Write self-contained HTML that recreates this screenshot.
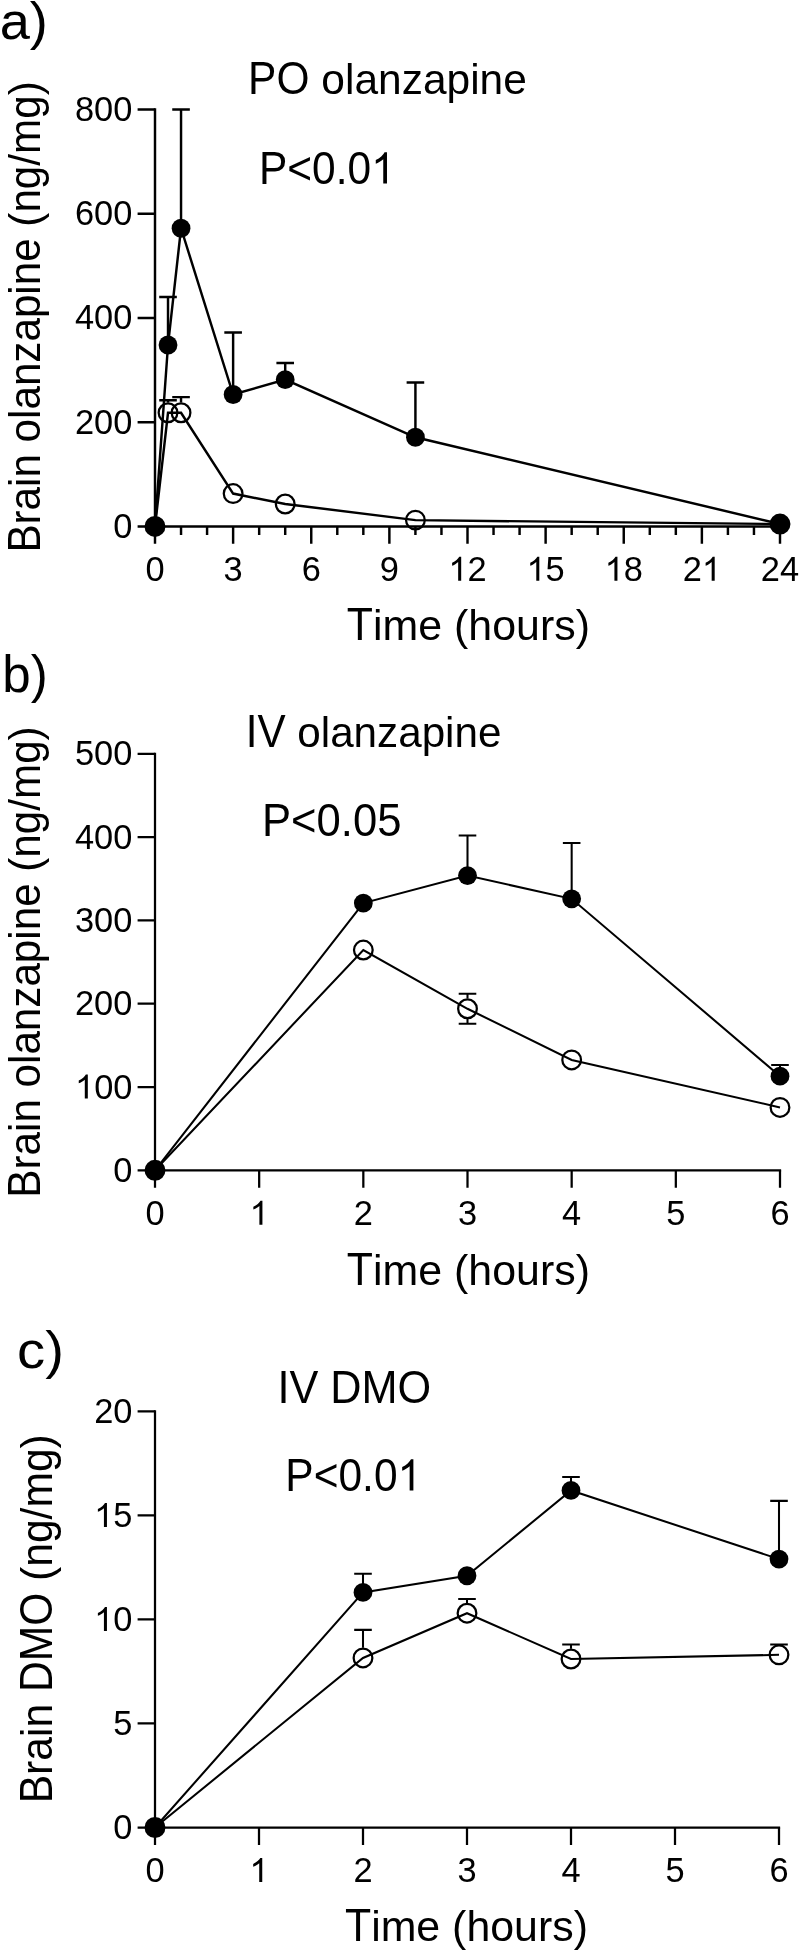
<!DOCTYPE html>
<html><head><meta charset="utf-8"><title>Brain olanzapine and DMO concentration-time profiles</title>
<style>html,body{margin:0;padding:0;background:#fff}body{width:800px;height:1953px;overflow:hidden}svg{display:block;will-change:transform}text{font-family:"Liberation Sans",sans-serif;fill:#000;font-kerning:none}</style>
</head><body>
<svg width="800" height="1953" viewBox="0 0 800 1953">
<g stroke="#000" stroke-width="2.45" fill="none">
<path d="M155 527.62 V108.18"/>
<path d="M153.78 526.4 H781.23"/>
<path d="M155 526.4 H137.6M155 422.15 H137.6M155 317.9 H137.6M155 213.65 H137.6M155 109.4 H137.6M155 526.4 V543.8M233.12 526.4 V543.8M311.25 526.4 V543.8M389.38 526.4 V543.8M467.5 526.4 V543.8M545.62 526.4 V543.8M623.75 526.4 V543.8M701.88 526.4 V543.8M780 526.4 V543.8M181.04 526.4 V535M207.08 526.4 V535M259.17 526.4 V535M285.21 526.4 V535M337.29 526.4 V535M363.33 526.4 V535M415.42 526.4 V535M441.46 526.4 V535M493.54 526.4 V535M519.58 526.4 V535M571.67 526.4 V535M597.71 526.4 V535M649.79 526.4 V535M675.83 526.4 V535M727.92 526.4 V535M753.96 526.4 V535"/>
</g>
<g transform="translate(113.27 537.9)" font-size="33.4">
<text transform="translate(0 0) scale(1.0300 1.0400)">0</text>
</g>
<g transform="translate(75 433.65)" font-size="33.4">
<text transform="translate(0 0) scale(1.0300 1.0400)">200</text>
</g>
<g transform="translate(75 329.4)" font-size="33.4">
<text transform="translate(0 0) scale(1.0300 1.0400)">400</text>
</g>
<g transform="translate(75 225.15)" font-size="33.4">
<text transform="translate(0 0) scale(1.0300 1.0400)">600</text>
</g>
<g transform="translate(75 120.9)" font-size="33.4">
<text transform="translate(0 0) scale(1.0300 1.0400)">800</text>
</g>
<g transform="translate(145.43 580.8)" font-size="33.4">
<text transform="translate(0 0) scale(1.0300 1.0400)">0</text>
</g>
<g transform="translate(223.56 580.8)" font-size="33.4">
<text transform="translate(0 0) scale(1.0300 1.0400)">3</text>
</g>
<g transform="translate(301.68 580.8)" font-size="33.4">
<text transform="translate(0 0) scale(1.0300 1.0400)">6</text>
</g>
<g transform="translate(379.81 580.8)" font-size="33.4">
<text transform="translate(0 0) scale(1.0300 1.0400)">9</text>
</g>
<g transform="translate(448.37 580.8)" font-size="33.4">
<path transform="translate(0 0) scale(0.01680 -0.01630)" d="M763 0H583V1147Q518 1085 412.5 1023T223 930V1104Q374 1175 487 1276T647 1472H763Z"/>
<text transform="translate(19.13 0) scale(1.0300 1.0400)">2</text>
</g>
<g transform="translate(526.49 580.8)" font-size="33.4">
<path transform="translate(0 0) scale(0.01680 -0.01630)" d="M763 0H583V1147Q518 1085 412.5 1023T223 930V1104Q374 1175 487 1276T647 1472H763Z"/>
<text transform="translate(19.13 0) scale(1.0300 1.0400)">5</text>
</g>
<g transform="translate(604.62 580.8)" font-size="33.4">
<path transform="translate(0 0) scale(0.01680 -0.01630)" d="M763 0H583V1147Q518 1085 412.5 1023T223 930V1104Q374 1175 487 1276T647 1472H763Z"/>
<text transform="translate(19.13 0) scale(1.0300 1.0400)">8</text>
</g>
<g transform="translate(682.74 580.8)" font-size="33.4">
<text transform="translate(0 0) scale(1.0300 1.0400)">2</text>
<path transform="translate(19.13 0) scale(0.01680 -0.01630)" d="M763 0H583V1147Q518 1085 412.5 1023T223 930V1104Q374 1175 487 1276T647 1472H763Z"/>
</g>
<g transform="translate(760.87 580.8)" font-size="33.4">
<text transform="translate(0 0) scale(1.0300 1.0400)">24</text>
</g>
<path d="M168.02 402.59 V400.26M159.22 400.26 H176.82M181.04 402.59 V397.13M172.24 397.13 H189.84" stroke="#000" stroke-width="2.45" fill="none"/>
<path d="M168.02 336.61 V297.05M159.22 297.05 H176.82M181.04 219.84 V109.4M172.24 109.4 H189.84M233.12 386.12 V332.5M224.32 332.5 H241.93M285.21 371.27 V362.99M276.41 362.99 H294.01M415.42 428.87 V382.53M406.62 382.53 H424.22" stroke="#000" stroke-width="2.45" fill="none"/>
<circle cx="155" cy="526.4" r="9.35" fill="none" stroke="#000" stroke-width="2.25"/>
<circle cx="168.02" cy="412.77" r="9.35" fill="none" stroke="#000" stroke-width="2.25"/>
<circle cx="181.04" cy="412.77" r="9.35" fill="none" stroke="#000" stroke-width="2.25"/>
<circle cx="233.12" cy="493.56" r="9.35" fill="none" stroke="#000" stroke-width="2.25"/>
<circle cx="285.21" cy="503.99" r="9.35" fill="none" stroke="#000" stroke-width="2.25"/>
<circle cx="415.42" cy="520.14" r="9.35" fill="none" stroke="#000" stroke-width="2.25"/>
<circle cx="780" cy="524.05" r="9.35" fill="none" stroke="#000" stroke-width="2.25"/>
<polyline points="155,526.4 168.02,412.77 181.04,412.77 233.12,493.56 285.21,503.99 415.42,520.14 780,524.05" stroke="#000" stroke-width="2.45" fill="none"/>
<circle cx="155" cy="526.4" r="9.4" fill="#000"/>
<circle cx="168.02" cy="345" r="9.4" fill="#000"/>
<circle cx="181.04" cy="228.25" r="9.4" fill="#000"/>
<circle cx="233.12" cy="394.52" r="9.4" fill="#000"/>
<circle cx="285.21" cy="379.67" r="9.4" fill="#000"/>
<circle cx="415.42" cy="437.27" r="9.4" fill="#000"/>
<circle cx="780" cy="524" r="9.4" fill="#000"/>
<polyline points="155,526.4 168.02,345 181.04,228.25 233.12,394.52 285.21,379.67 415.42,437.27 780,524" stroke="#000" stroke-width="2.45" fill="none"/>
<g transform="translate(-0.3 38.7)" font-size="51.9">
<text transform="translate(0 0) scale(1.0436 1.0000)">a)</text>
</g>
<g transform="translate(248.11 93.6)" font-size="42.2">
<text transform="translate(0 0) scale(1.0070 1.0761)">PO</text>
<text transform="translate(73.21 0) scale(1.0070 1.0200)">olanzapine</text>
</g>
<g transform="translate(258.91 183.6)" font-size="42.2">
<text transform="translate(0 0) scale(1.0070 1.0761)">P&lt;0.0</text>
<path transform="translate(112.24 0) scale(0.02075 -0.02131)" d="M763 0H583V1147Q518 1085 412.5 1023T223 930V1104Q374 1175 487 1276T647 1472H763Z"/>
</g>
<g transform="translate(346.84 640)" font-size="42.2">
<text transform="translate(0 0) scale(1.0165 1.0761)">T</text>
<text transform="translate(26.2 0) scale(1.0165 1.0200)">ime (hours)</text>
</g>
<g transform="translate(39.8 552.6) rotate(-90)" font-size="42.2">
<text transform="translate(0 0) scale(1.0000 1.1116)">B</text>
<text transform="translate(28.15 0) scale(1.0000 1.0537)">rain olanzapine (ng/mg)</text>
</g>
<g stroke="#000" stroke-width="2.25" fill="none">
<path d="M155 1171.42 V752.67"/>
<path d="M153.88 1170.3 H781.12"/>
<path d="M155 1170.3 H137.6M155 1087 H137.6M155 1003.7 H137.6M155 920.4 H137.6M155 837.1 H137.6M155 753.8 H137.6M155 1170.3 V1187.7M259.17 1170.3 V1187.7M363.33 1170.3 V1187.7M467.5 1170.3 V1187.7M571.67 1170.3 V1187.7M675.83 1170.3 V1187.7M780 1170.3 V1187.7"/>
</g>
<g transform="translate(113.27 1181.8)" font-size="33.4">
<text transform="translate(0 0) scale(1.0300 1.0400)">0</text>
</g>
<g transform="translate(75 1098.5)" font-size="33.4">
<path transform="translate(0 0) scale(0.01680 -0.01630)" d="M763 0H583V1147Q518 1085 412.5 1023T223 930V1104Q374 1175 487 1276T647 1472H763Z"/>
<text transform="translate(19.13 0) scale(1.0300 1.0400)">00</text>
</g>
<g transform="translate(75 1015.2)" font-size="33.4">
<text transform="translate(0 0) scale(1.0300 1.0400)">200</text>
</g>
<g transform="translate(75 931.9)" font-size="33.4">
<text transform="translate(0 0) scale(1.0300 1.0400)">300</text>
</g>
<g transform="translate(75 848.6)" font-size="33.4">
<text transform="translate(0 0) scale(1.0300 1.0400)">400</text>
</g>
<g transform="translate(75 765.3)" font-size="33.4">
<text transform="translate(0 0) scale(1.0300 1.0400)">500</text>
</g>
<g transform="translate(145.43 1224.7)" font-size="33.4">
<text transform="translate(0 0) scale(1.0300 1.0400)">0</text>
</g>
<g transform="translate(249.6 1224.7)" font-size="33.4">
<path transform="translate(0 0) scale(0.01680 -0.01630)" d="M763 0H583V1147Q518 1085 412.5 1023T223 930V1104Q374 1175 487 1276T647 1472H763Z"/>
</g>
<g transform="translate(353.77 1224.7)" font-size="33.4">
<text transform="translate(0 0) scale(1.0300 1.0400)">2</text>
</g>
<g transform="translate(457.93 1224.7)" font-size="33.4">
<text transform="translate(0 0) scale(1.0300 1.0400)">3</text>
</g>
<g transform="translate(562.1 1224.7)" font-size="33.4">
<text transform="translate(0 0) scale(1.0300 1.0400)">4</text>
</g>
<g transform="translate(666.27 1224.7)" font-size="33.4">
<text transform="translate(0 0) scale(1.0300 1.0400)">5</text>
</g>
<g transform="translate(770.43 1224.7)" font-size="33.4">
<text transform="translate(0 0) scale(1.0300 1.0400)">6</text>
</g>
<path d="M467.5 998.61 V993.7M458.7 993.7 H476.3M467.5 1018.96 V1023.69M458.7 1023.69 H476.3" stroke="#000" stroke-width="2.05" fill="none"/>
<path d="M467.5 867.18 V835.43M458.7 835.43 H476.3M571.67 890.43 V842.93M562.87 842.93 H580.47M780 1067.77 V1064.93M771.2 1064.93 H788.8" stroke="#000" stroke-width="2.05" fill="none"/>
<circle cx="155" cy="1170.3" r="9.35" fill="none" stroke="#000" stroke-width="2.25"/>
<circle cx="363.33" cy="950.05" r="9.35" fill="none" stroke="#000" stroke-width="2.25"/>
<circle cx="467.5" cy="1008.78" r="9.35" fill="none" stroke="#000" stroke-width="2.25"/>
<circle cx="571.67" cy="1059.93" r="9.35" fill="none" stroke="#000" stroke-width="2.25"/>
<circle cx="780" cy="1107.41" r="9.35" fill="none" stroke="#000" stroke-width="2.25"/>
<polyline points="155,1170.3 363.33,950.05 467.5,1008.78 571.67,1059.93 780,1107.41" stroke="#000" stroke-width="2.05" fill="none"/>
<circle cx="155" cy="1170.3" r="9.4" fill="#000"/>
<circle cx="363.33" cy="903.07" r="9.4" fill="#000"/>
<circle cx="467.5" cy="875.58" r="9.4" fill="#000"/>
<circle cx="571.67" cy="898.83" r="9.4" fill="#000"/>
<circle cx="780" cy="1076.17" r="9.4" fill="#000"/>
<polyline points="155,1170.3 363.33,903.07 467.5,875.58 571.67,898.83 780,1076.17" stroke="#000" stroke-width="2.05" fill="none"/>
<g transform="translate(2.2 691.5)" font-size="51.9">
<text transform="translate(0 0) scale(0.9852 1.0000)">b)</text>
</g>
<g transform="translate(245.71 747)" font-size="42.2">
<text transform="translate(0 0) scale(1.0001 1.0761)">IV</text>
<text transform="translate(51.6 0) scale(1.0001 1.0200)">olanzapine</text>
</g>
<g transform="translate(262.02 836.4)" font-size="42.2">
<text transform="translate(0 0) scale(1.0332 1.0761)">P&lt;0.05</text>
</g>
<g transform="translate(346.84 1285)" font-size="42.2">
<text transform="translate(0 0) scale(1.0165 1.0761)">T</text>
<text transform="translate(26.2 0) scale(1.0165 1.0200)">ime (hours)</text>
</g>
<g transform="translate(39.8 1197.65) rotate(-90)" font-size="42.2">
<text transform="translate(0 0) scale(1.0000 1.1116)">B</text>
<text transform="translate(28.15 0) scale(1.0000 1.0537)">rain olanzapine (ng/mg)</text>
</g>
<g stroke="#000" stroke-width="2.25" fill="none">
<path d="M155 1828.62 V1410.28"/>
<path d="M153.88 1827.5 H780.12"/>
<path d="M155 1827.5 H137.6M155 1723.47 H137.6M155 1619.45 H137.6M155 1515.43 H137.6M155 1411.4 H137.6M155 1827.5 V1844.9M259 1827.5 V1844.9M363 1827.5 V1844.9M467 1827.5 V1844.9M571 1827.5 V1844.9M675 1827.5 V1844.9M779 1827.5 V1844.9"/>
</g>
<g transform="translate(113.27 1839)" font-size="33.4">
<text transform="translate(0 0) scale(1.0300 1.0400)">0</text>
</g>
<g transform="translate(113.27 1734.97)" font-size="33.4">
<text transform="translate(0 0) scale(1.0300 1.0400)">5</text>
</g>
<g transform="translate(94.13 1630.95)" font-size="33.4">
<path transform="translate(0 0) scale(0.01680 -0.01630)" d="M763 0H583V1147Q518 1085 412.5 1023T223 930V1104Q374 1175 487 1276T647 1472H763Z"/>
<text transform="translate(19.13 0) scale(1.0300 1.0400)">0</text>
</g>
<g transform="translate(94.13 1526.93)" font-size="33.4">
<path transform="translate(0 0) scale(0.01680 -0.01630)" d="M763 0H583V1147Q518 1085 412.5 1023T223 930V1104Q374 1175 487 1276T647 1472H763Z"/>
<text transform="translate(19.13 0) scale(1.0300 1.0400)">5</text>
</g>
<g transform="translate(94.13 1422.9)" font-size="33.4">
<text transform="translate(0 0) scale(1.0300 1.0400)">20</text>
</g>
<g transform="translate(145.43 1881.9)" font-size="33.4">
<text transform="translate(0 0) scale(1.0300 1.0400)">0</text>
</g>
<g transform="translate(249.43 1881.9)" font-size="33.4">
<path transform="translate(0 0) scale(0.01680 -0.01630)" d="M763 0H583V1147Q518 1085 412.5 1023T223 930V1104Q374 1175 487 1276T647 1472H763Z"/>
</g>
<g transform="translate(353.43 1881.9)" font-size="33.4">
<text transform="translate(0 0) scale(1.0300 1.0400)">2</text>
</g>
<g transform="translate(457.43 1881.9)" font-size="33.4">
<text transform="translate(0 0) scale(1.0300 1.0400)">3</text>
</g>
<g transform="translate(561.43 1881.9)" font-size="33.4">
<text transform="translate(0 0) scale(1.0300 1.0400)">4</text>
</g>
<g transform="translate(665.43 1881.9)" font-size="33.4">
<text transform="translate(0 0) scale(1.0300 1.0400)">5</text>
</g>
<g transform="translate(769.43 1881.9)" font-size="33.4">
<text transform="translate(0 0) scale(1.0300 1.0400)">6</text>
</g>
<path d="M363 1647.76 V1629.85M354.2 1629.85 H371.8M467 1603.03 V1599.06M458.2 1599.06 H475.8M571 1648.8 V1644.42M562.2 1644.42 H579.8M779 1644.64 V1644.42M770.2 1644.42 H787.8" stroke="#000" stroke-width="2.05" fill="none"/>
<path d="M363 1584 V1573.68M354.2 1573.68 H371.8M571 1482.06 V1476.94M562.2 1476.94 H579.8M779 1550.72 V1500.86M770.2 1500.86 H787.8" stroke="#000" stroke-width="2.05" fill="none"/>
<circle cx="155" cy="1827.5" r="9.35" fill="none" stroke="#000" stroke-width="2.25"/>
<circle cx="363" cy="1657.94" r="9.35" fill="none" stroke="#000" stroke-width="2.25"/>
<circle cx="467" cy="1613.21" r="9.35" fill="none" stroke="#000" stroke-width="2.25"/>
<circle cx="571" cy="1658.98" r="9.35" fill="none" stroke="#000" stroke-width="2.25"/>
<circle cx="779" cy="1654.82" r="9.35" fill="none" stroke="#000" stroke-width="2.25"/>
<polyline points="155,1827.5 363,1657.94 467,1613.21 571,1658.98 779,1654.82" stroke="#000" stroke-width="2.05" fill="none"/>
<circle cx="155" cy="1827.5" r="9.4" fill="#000"/>
<circle cx="363" cy="1592.4" r="9.4" fill="#000"/>
<circle cx="467" cy="1575.76" r="9.4" fill="#000"/>
<circle cx="571" cy="1490.46" r="9.4" fill="#000"/>
<circle cx="779" cy="1559.12" r="9.4" fill="#000"/>
<polyline points="155,1827.5 363,1592.4 467,1575.76 571,1490.46 779,1559.12" stroke="#000" stroke-width="2.05" fill="none"/>
<g transform="translate(17.11 1368)" font-size="51.9">
<text transform="translate(0 0) scale(1.0844 1.0000)">c)</text>
</g>
<g transform="translate(277.41 1402.9)" font-size="42.2">
<text transform="translate(0 0) scale(1.0254 1.0761)">IV DMO</text>
</g>
<g transform="translate(285.31 1490.6)" font-size="42.2">
<text transform="translate(0 0) scale(1.0070 1.0761)">P&lt;0.0</text>
<path transform="translate(112.24 0) scale(0.02075 -0.02131)" d="M763 0H583V1147Q518 1085 412.5 1023T223 930V1104Q374 1175 487 1276T647 1472H763Z"/>
</g>
<g transform="translate(344.94 1941)" font-size="42.2">
<text transform="translate(0 0) scale(1.0161 1.0761)">T</text>
<text transform="translate(26.19 0) scale(1.0161 1.0200)">ime (hours)</text>
</g>
<g transform="translate(51.75 1803.3) rotate(-90)" font-size="42.2">
<text transform="translate(0 0) scale(1.0090 1.1116)">B</text>
<text transform="translate(28.4 0) scale(1.0090 1.0537)">rain</text>
<text transform="translate(111.23 0) scale(1.0090 1.1116)">DMO</text>
<text transform="translate(222.4 0) scale(1.0090 1.0537)">(ng/mg)</text>
</g>
</svg></body></html>
